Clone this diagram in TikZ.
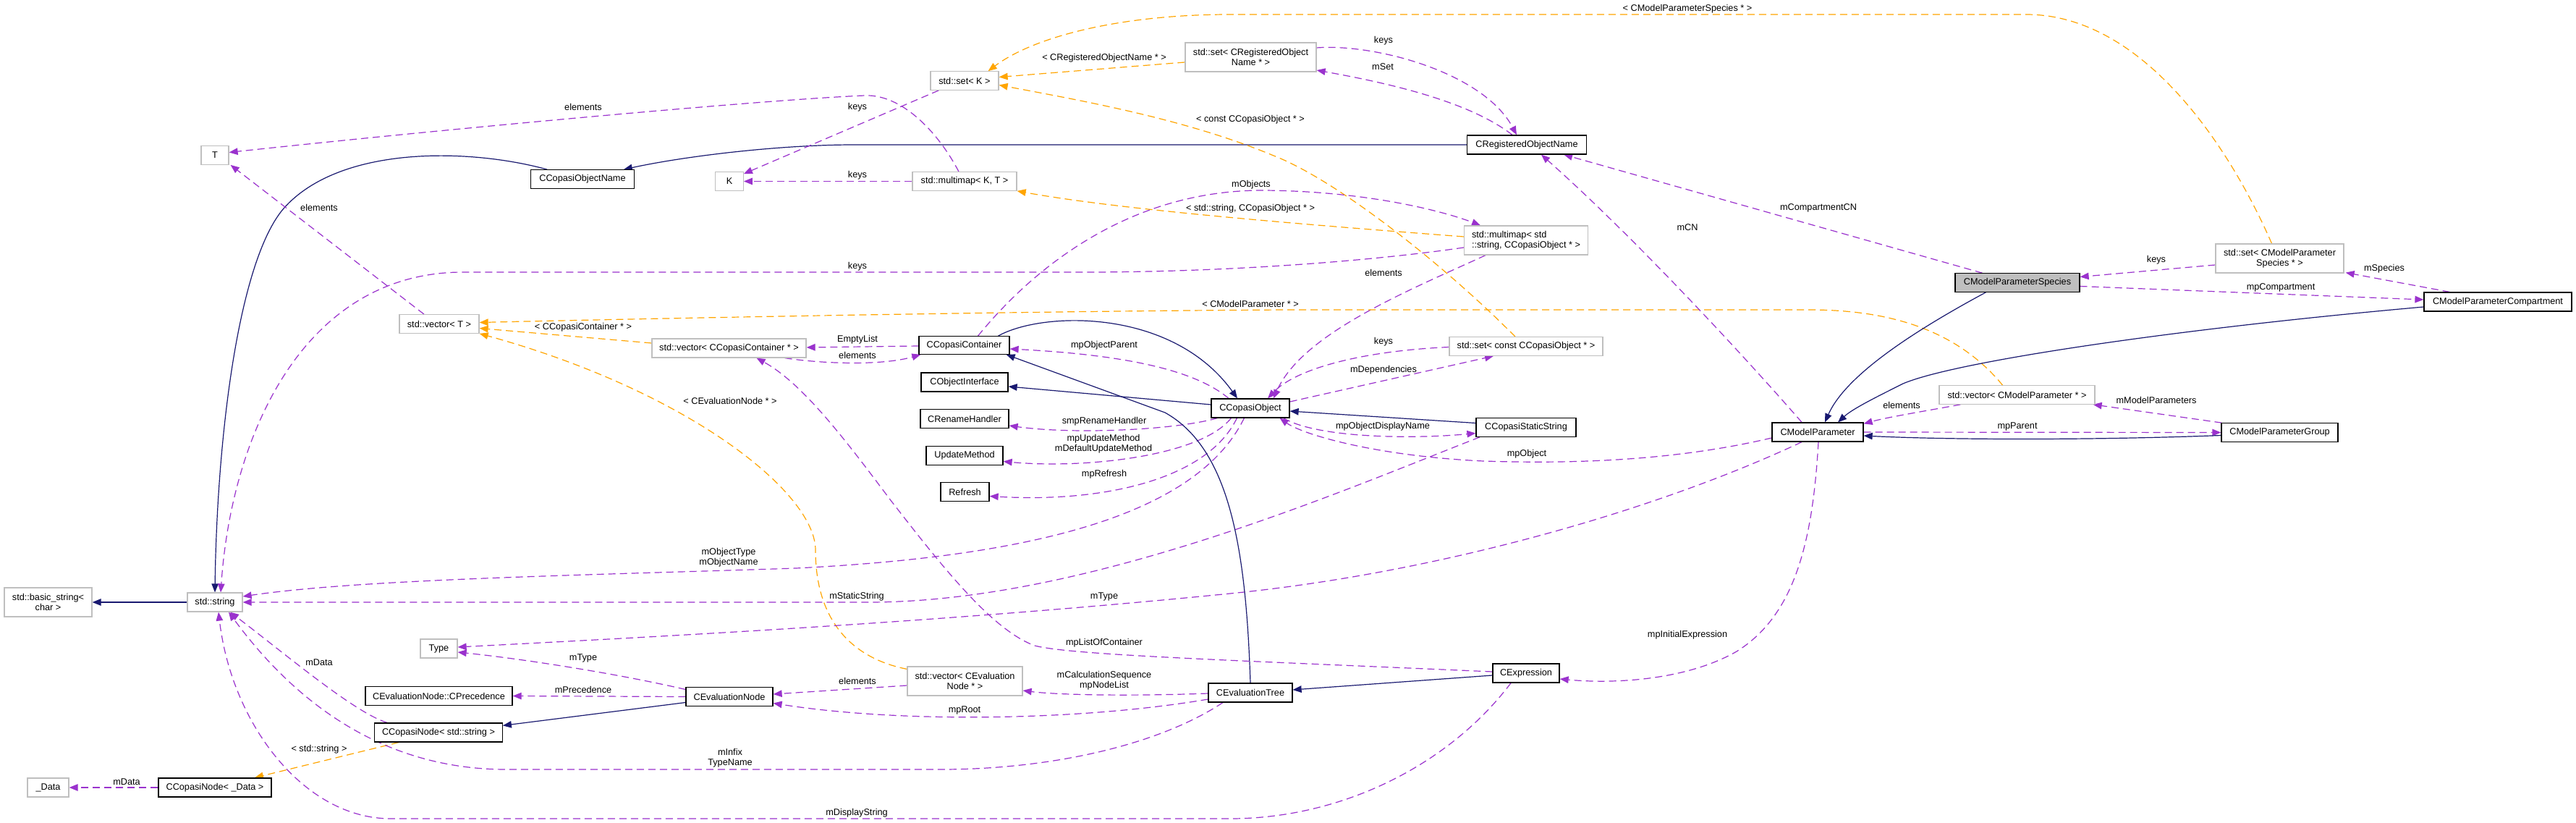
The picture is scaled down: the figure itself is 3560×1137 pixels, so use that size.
\documentclass[tikz,border=0pt]{standalone}
\usepackage{fontspec}
\setmainfont{Liberation Sans}
\usetikzlibrary{arrows.meta,backgrounds}
\definecolor{navy}{HTML}{191970}
\definecolor{purp}{HTML}{9A32CD}
\definecolor{orng}{HTML}{FFA500}
\definecolor{gbox}{HTML}{BFBFBF}
\newcommand{\dfont}{\fontsize{12.7}{14.4}\selectfont}
\begin{document}
\begin{tikzpicture}[x=1pt,y=-1pt,
  nodebox/.style={line width=1.25pt, fill=white, inner sep=0pt, minimum height=25.5pt, font=\dfont},
  cls/.style={nodebox, draw=black},
  ext/.style={nodebox, draw=gbox},
  hil/.style={nodebox, draw=black, fill=gbox},
  twoline/.style={minimum height=40pt, align=center},
  lbl/.style={inner sep=0pt, font=\dfont, align=center},
  arrowtip/.style={-{Triangle[length=12pt,width=9.5pt]}},
  inhedge/.style={draw=navy, line width=1.2pt, arrowtip},
  usedge/.style={draw=purp, line width=1.2pt, dash pattern=on 10pt off 6pt, arrowtip},
  tmpledge/.style={draw=orng, line width=1.2pt, dash pattern=on 10pt off 6pt, arrowtip},
]
\useasboundingbox (0,0) rectangle (3560,1137);

% ---------- nodes ----------
\node[ext, minimum width=38pt] (T) at (297,214.5) {T};
\node[cls, minimum width=142.5pt] (CON) at (805,247.5) {CCopasiObjectName};
\node[ext, minimum width=94pt] (SetK) at (1333,111.5) {std::set< K >};
\node[ext, twoline, minimum width=181pt] (SetCRON) at (1728.5,79) {std::set< CRegisteredObject\\Name * >};
\node[ext, minimum width=38.5pt] (K) at (1008,250.5) {K};
\node[ext, minimum width=144pt] (MMKT) at (1333,250.5) {std::multimap< K, T >};
\node[cls, minimum width=165pt, minimum height=26pt] (CRON) at (2110,200) {CRegisteredObjectName};
\node[ext, minimum width=171pt, minimum height=40pt, align=left] (MMStd) at (2109,332) {std::multimap< std\\::string, CCopasiObject * >};
\node[ext, twoline, minimum width=177pt] (SetCMPS) at (3150.5,357) {std::set< CModelParameter\\Species * >};
\node[hil, minimum width=172pt] (CMPS) at (2788,390.5) {CModelParameterSpecies};
\node[cls, minimum width=204pt, minimum height=26pt] (CMPC) at (3452,417) {CModelParameterCompartment};
\node[ext, minimum width=215pt] (VecCMP) at (2787.5,545.5) {std::vector< CModelParameter * >};
\node[cls, minimum width=161pt] (CMPG) at (3150.5,597.5) {CModelParameterGroup};
\node[cls, minimum width=108pt, minimum height=26pt] (CObj) at (1728,564) {CCopasiObject};
\node[ext, minimum width=212pt] (SetConst) at (2109,478.5) {std::set< const CCopasiObject * >};
\node[cls, minimum width=138pt] (CSS) at (2109,590.5) {CCopasiStaticString};
\node[cls, minimum width=126pt, minimum height=26pt] (CMP) at (2512,597) {CModelParameter};
\node[ext, minimum width=213pt, minimum height=26pt] (VecCC) at (1007.5,481) {std::vector< CCopasiContainer * >};
\node[cls, minimum width=125pt, minimum height=24.5pt] (CC) at (1332.5,477) {CCopasiContainer};
\node[cls, minimum width=120pt, minimum height=26pt] (COI) at (1333,528) {CObjectInterface};
\node[cls, minimum width=122pt] (CRH) at (1333,578.5) {CRenameHandler};
\node[cls, minimum width=106pt] (UM) at (1333,629.5) {UpdateMethod};
\node[cls, minimum width=67pt] (Refresh) at (1333.5,679.5) {Refresh};
\node[ext, minimum width=110pt] (VecT) at (607,447.5) {std::vector< T >};
\node[ext, twoline, minimum width=121pt] (BS) at (66.5,832) {std::basic\_string<\\char >};
\node[ext, minimum width=76pt, minimum height=26pt] (StdStr) at (297,832) {std::string};
\node[ext, minimum width=51pt, minimum height=26pt] (Type) at (606.5,896) {Type};
\node[cls, minimum width=203pt] (CPrec) at (606.5,961.5) {CEvaluationNode::CPrecedence};
\node[cls, minimum width=176.5pt, minimum height=26pt] (CNS) at (606,1012) {CCopasiNode< std::string >};
\node[ext, minimum width=57pt, minimum height=26pt] (Data) at (66.5,1088) {\_Data};
\node[cls, minimum width=156pt, minimum height=26pt] (CND) at (297,1088) {CCopasiNode< \_Data >};
\node[cls, minimum width=120pt] (CEN) at (1008,962.5) {CEvaluationNode};
\node[ext, twoline, minimum width=159pt] (VecCEN) at (1333.5,941) {std::vector< CEvaluation\\Node * >};
\node[cls, minimum width=116pt, minimum height=26pt] (CET) at (1728,957) {CEvaluationTree};
\node[cls, minimum width=92pt, minimum height=26pt] (CExpr) at (2109,930) {CExpression};

% ---------- labels ----------
\node[lbl] (l1) at (806,148) {elements};
\node[lbl] (l2) at (441,287) {elements};
\node[lbl] (l3) at (1526,80) {< CRegisteredObjectName * >};
\node[lbl] (l4) at (1185,148) {keys};
\node[lbl] (l5) at (1185,242) {keys};
\node[lbl] (l6) at (1728,165) {< const CCopasiObject * >};
\node[lbl] (l7) at (1729,255) {mObjects};
\node[lbl] (l8) at (1728,288) {< std::string, CCopasiObject * >};
\node[lbl] (l9) at (1185,368) {keys};
\node[lbl] (l10) at (1912,56) {keys};
\node[lbl] (l11) at (1911,92) {mSet};
\node[lbl] (l12) at (2332,12) {< CModelParameterSpecies * >};
\node[lbl] (l13) at (2513,287) {mCompartmentCN};
\node[lbl] (l14) at (2332,314) {mCN};
\node[lbl] (l15) at (1912,377) {elements};
\node[lbl] (l16) at (2980,359) {keys};
\node[lbl] (l17) at (3295,371) {mSpecies};
\node[lbl] (l18) at (3152,397) {mpCompartment};
\node[lbl] (l19) at (2980,553) {mModelParameters};
\node[lbl] (l20) at (2788,589) {mpParent};
\node[lbl] (l21) at (1912,472) {keys};
\node[lbl] (l22) at (1912,511) {mDependencies};
\node[lbl] (l23) at (1911,589) {mpObjectDisplayName};
\node[lbl] (l24) at (2110,627) {mpObject};
\node[lbl] (l25) at (2628,560) {elements};
\node[lbl] (l26) at (1728,420) {< CModelParameter * >};
\node[lbl] (l27) at (1185,469) {EmptyList};
\node[lbl] (l28) at (1185,491) {elements};
\node[lbl] (l29) at (1526,477) {mpObjectParent};
\node[lbl] (l30) at (1526,582) {smpRenameHandler};
\node[lbl] (l31) at (1525,613) {mpUpdateMethod\\mDefaultUpdateMethod};
\node[lbl] (l32) at (1526,655) {mpRefresh};
\node[lbl] (l33) at (1009,554) {< CEvaluationNode * >};
\node[lbl] (l34) at (1007,770) {mObjectType\\mObjectName};
\node[lbl] (l35) at (806,452) {< CCopasiContainer * >};
\node[lbl] (l36) at (806,909) {mType};
\node[lbl] (l37) at (441,915) {mData};
\node[lbl] (l38) at (806,953) {mPrecedence};
\node[lbl] (l39) at (441,1035) {< std::string >};
\node[lbl] (l40) at (175,1080) {mData};
\node[lbl] (l41) at (1185,941) {elements};
\node[lbl] (l42) at (1526,940) {mCalculationSequence\\mpNodeList};
\node[lbl] (l43) at (1333,981) {mpRoot};
\node[lbl] (l44) at (1009,1047) {mInfix\\TypeName};
\node[lbl] (l45) at (1184,1123) {mDisplayString};
\node[lbl] (l46) at (1184,824) {mStaticString};
\node[lbl] (l47) at (1526,824) {mType};
\node[lbl] (l48) at (1526,888) {mpListOfContainer};
\node[lbl] (l49) at (2332,877) {mpInitialExpression};

% ---------- connectors ----------
\begin{scope}[on background layer]
\fill[white] (0,0) rectangle (3560,1137);
\draw[inhedge] ([xshift=23pt]CON.north west) .. controls (650,205) and (470,200) .. (392,288) .. controls (330,360) and (300,600) .. (StdStr.north);
\draw[inhedge] (CRON.west) -- (1180,200) .. controls (1080,200) and (950,215) .. ([xshift=-15pt]CON.north east);
\draw[usedge] (MMKT.west) -- (K.east);
\draw[usedge] ([xshift=12pt]SetK.south west) -- ([yshift=-3pt]K.north east);
\draw[usedge] ([xshift=-8pt]MMKT.north) .. controls (1295,180) and (1245,130) .. (1195,132) .. controls (1050,138) and (600,180) .. ([yshift=4pt]T.east);
\draw[usedge] ([xshift=-21pt]VecT.north) -- ([xshift=2pt]T.south east);
\draw[tmpledge] ([yshift=-7pt]SetCRON.west) -- ([yshift=5pt]SetK.east);
\draw[tmpledge] ([xshift=-15pt]SetConst.north) .. controls (2000,370) and (1850,250) .. (1760,215) .. controls (1640,165) and (1500,140) .. ([yshift=-6pt]SetK.east);
\draw[tmpledge] ([yshift=5pt]MMStd.west) .. controls (1800,310) and (1550,290) .. (MMKT.south east);
\draw[usedge] ([xshift=19pt]CC.north) .. controls (1420,380) and (1550,265) .. (1740,263) .. controls (1880,263) and (1990,290) .. ([xshift=-63pt]MMStd.north);
\draw[usedge] ([yshift=-10pt]MMStd.west) .. controls (1900,360) and (1700,376) .. (1500,376) -- (640,376) .. controls (420,376) and (320,600) .. ([xshift=8pt]StdStr.north);
\draw[usedge] ([xshift=-56pt]MMStd.south) .. controls (1950,400) and (1800,460) .. ([xshift=32pt]CObj.north);
\draw[usedge] ([yshift=-1pt]SetConst.west) .. controls (1880,485) and (1790,510) .. ([xshift=24pt]CObj.north);
\draw[usedge] ([yshift=9pt]CObj.east) -- ([xshift=-45pt]SetConst.south);
\draw[inhedge] ([xshift=47pt]CC.north) .. controls (1440,430) and (1620,425) .. ([xshift=-18pt]CObj.north);
\draw[usedge] ([xshift=-30pt]CObj.north) .. controls (1650,510) and (1550,490) .. ([yshift=-5pt]CC.east);
\draw[usedge] ([yshift=-1pt]CC.west) -- ([yshift=1pt]VecCC.east);
\draw[usedge] ([xshift=-30pt]VecCC.south east) .. controls (1140,503) and (1220,505) .. ([xshift=3pt]CC.south west);
\draw[tmpledge] ([yshift=7pt]VecCC.west) -- ([yshift=-6pt]VecT.east);
\draw[tmpledge] ([xshift=-20pt]VecCMP.north) .. controls (2700,450) and (2600,428) .. (2500,428) -- (1780,428) .. controls (1400,430) and (900,440) .. ([yshift=2pt]VecT.east);
\draw[tmpledge] ([yshift=-4pt]VecCEN.north west) .. controls (1180,910) and (1127,860) .. (1127,760) .. controls (1127,680) and (950,540) .. (VecT.south east);
\draw[inhedge] ([yshift=5pt]CObj.west) -- ([yshift=-6pt]COI.east);
\draw[usedge] ([xshift=9pt]CObj.south west) .. controls (1620,595) and (1480,600) .. ([yshift=-9.5pt]CRH.east);
\draw[usedge] ([xshift=28pt]CObj.south west) .. controls (1660,630) and (1500,648) .. ([yshift=-8pt]UM.east);
\draw[usedge] ([xshift=36pt]CObj.south west) .. controls (1670,660) and (1530,695) .. ([yshift=-6pt]Refresh.east);
\draw[usedge] ([xshift=46pt]CObj.south west) .. controls (1650,720) and (1400,770) .. (1100,785) .. controls (800,795) and (500,800) .. ([yshift=8pt]StdStr.east);
\draw[inhedge] ([yshift=6pt]CSS.west) -- ([yshift=-4pt]CObj.east);
\draw[usedge] ([xshift=-9pt]CObj.south east) .. controls (1820,605) and (1950,607) .. ([yshift=-8pt]CSS.west);
\draw[usedge] ([yshift=-8pt]CMP.west) .. controls (2300,640) and (2150,640) .. (2050,637) .. controls (1900,630) and (1800,600) .. ([xshift=-14pt]CObj.south east);
\draw[usedge] ([xshift=-64pt]CSS.south) .. controls (1850,680) and (1500,832) .. (1200,832) -- (StdStr.east);
\draw[usedge] ([xshift=-22pt]CMP.south) .. controls (2300,700) and (2000,790) .. (1700,820) .. controls (1300,860) and (900,880) .. ([yshift=2pt]Type.east);
\draw[usedge] ([yshift=10pt]CEN.west) .. controls (850,930) and (720,910) .. ([yshift=-5pt]Type.east);
\draw[usedge] (CEN.west) -- (CPrec.east);
\draw[inhedge] ([yshift=-8pt]CEN.west) -- ([yshift=-4pt]CNS.north east);
\draw[usedge] ([xshift=18pt]CNS.north west) .. controls (490,985) and (390,900) .. ([xshift=21pt]StdStr.south);
\draw[tmpledge] ([xshift=-55pt]CNS.south) -- ([xshift=55pt]CND.north);
\draw[usedge] (CND.west) -- (Data.east);
\draw[usedge] ([yshift=-6pt]VecCEN.west) -- ([yshift=3.5pt]CEN.east);
\draw[usedge] ([yshift=-1pt]CET.west) .. controls (1560,962) and (1460,960) .. ([yshift=-13pt]VecCEN.east);
\draw[usedge] ([yshift=-9pt]CET.west) .. controls (1500,995) and (1250,1000) .. ([yshift=-9pt]CEN.east);
\draw[inhedge] (CET.north) .. controls (1722,760) and (1700,620) .. (1610,570) -- ([xshift=-5pt]CC.south east);
\draw[inhedge] ([yshift=-3pt]CExpr.west) -- ([yshift=4pt]CET.east);
\draw[usedge] ([yshift=2pt]CExpr.west) .. controls (1700,912) and (1480,905) .. (1430,892) .. controls (1370,870) and (1300,780) .. (1230,690) .. controls (1170,610) and (1110,530) .. ([xshift=38pt]VecCC.south);
\draw[usedge] ([xshift=1pt]CMP.south) .. controls (2505,750) and (2480,850) .. (2400,900) .. controls (2330,940) and (2230,945) .. ([yshift=-8pt]CExpr.east);
\draw[usedge] ([xshift=-21pt]CExpr.south) .. controls (2000,1060) and (1850,1131) .. (1700,1131) -- (540,1131) .. controls (420,1131) and (320,1000) .. ([xshift=5pt]StdStr.south);
\draw[usedge] ([xshift=-38pt]CET.south) .. controls (1600,1030) and (1450,1063) .. (1300,1063) -- (700,1063) .. controls (520,1063) and (400,960) .. ([xshift=19pt]StdStr.south);
\draw[inhedge] (StdStr.west) -- (BS.east);
\draw[usedge] ([xshift=30pt]VecCMP.south west) .. controls (2660,568) and (2610,576) .. ([yshift=-2pt]CMP.north east);
\draw[usedge] ([xshift=1pt]CMPG.north west) -- ([xshift=-3pt]VecCMP.south east);
\draw[usedge] (CMP.east) -- (CMPG.west);
\draw[inhedge] ([yshift=-4pt]CMPG.west) .. controls (2900,608) and (2700,608) .. ([yshift=-5pt]CMP.east);
\draw[inhedge] ([yshift=-7pt]CMPC.west) .. controls (3000,455) and (2700,500) .. (2630,530) .. controls (2590,550) and (2560,565) .. ([xshift=28pt]CMP.north);
\draw[inhedge] ([xshift=43pt]CMPS.south west) .. controls (2640,460) and (2550,520) .. ([xshift=10pt]CMP.north);
\draw[usedge] ([yshift=-5pt]CMPS.east) -- ([yshift=3pt]CMPC.west);
\draw[usedge] ([xshift=36pt]CMPC.north west) -- ([xshift=2pt,yshift=1pt]SetCMPS.south east);
\draw[usedge] ([yshift=-9pt]SetCMPS.west) -- ([yshift=8pt]CMPS.east);
\draw[usedge] ([xshift=38pt]CMPS.north west) -- ([xshift=-32pt]CRON.south east);
\draw[usedge] ([xshift=-22pt]CMP.north) .. controls (2400,480) and (2250,320) .. ([xshift=20pt]CRON.south);
\draw[tmpledge] ([xshift=-11pt]SetCMPS.north) .. controls (3080,200) and (2960,20) .. (2800,20) -- (1700,20) .. controls (1550,20) and (1430,50) .. ([xshift=-15pt]SetK.north east);
\draw[usedge] ([xshift=-20pt]CRON.north) .. controls (2030,140) and (1920,115) .. ([yshift=-18pt]SetCRON.east);
\draw[usedge] ([yshift=13pt]SetCRON.east) .. controls (1900,60) and (2050,100) .. ([xshift=-14pt]CRON.north);
\end{scope}
\end{tikzpicture}
\end{document}
